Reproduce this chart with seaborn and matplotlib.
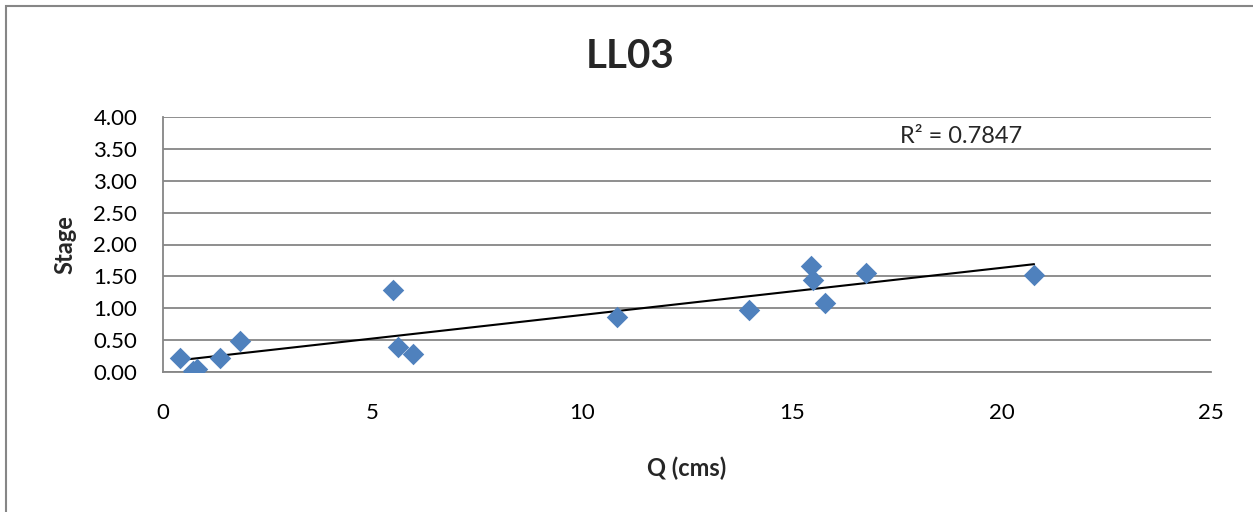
import numpy as np
import pandas as pd
import matplotlib
matplotlib.use("Agg")
import matplotlib.pyplot as plt
import seaborn as sns
from matplotlib.patches import Rectangle

# Data
q_cms = [0.41, 0.72, 0.80, 1.36, 1.84, 5.49, 5.61, 5.96,
         10.83, 13.98, 15.46, 15.51, 15.79, 16.77, 20.78]
stage = [0.22, 0.02, 0.05, 0.22, 0.49, 1.29, 0.39, 0.28,
         0.86, 0.97, 1.66, 1.44, 1.08, 1.55, 1.52]
r2_label = "R² = 0.7847"
title = "LL03"

df = pd.DataFrame({"Q": q_cms, "Stage": stage})

sns.set_style("white")
plt.rcParams["font.family"] = ["Lato", "DejaVu Sans"]

fig = plt.figure(figsize=(12.53, 5.12), dpi=100)
ax = fig.add_axes([163 / 1253, 1 - 372 / 512, (1211 - 163) / 1253, (372 - 117) / 512])

grey = "#868686"

# horizontal gridlines
ax.set_axisbelow(True)
ax.yaxis.grid(True, color=grey, linewidth=1.3)
ax.xaxis.grid(False)

# linear trendline
slope, intercept = np.polyfit(df["Q"], df["Stage"], 1)
xs = np.array([df["Q"].min(), df["Q"].max()])
ax.plot(xs, slope * xs + intercept, color="black", linewidth=1.5, zorder=3)

sns.scatterplot(data=df, x="Q", y="Stage", marker="D", s=120, color="#4F81BD",
                edgecolor="#4F81BD", linewidth=0, ax=ax, zorder=4)

ax.set_xlim(0, 25)
ax.set_ylim(0, 4)
ax.set_xticks(np.arange(0, 26, 5))
ax.set_yticks(np.arange(0, 4.01, 0.5))
ax.set_yticklabels([f"{v:.2f}" for v in np.arange(0, 4.01, 0.5)])

for side in ["top", "right"]:
    ax.spines[side].set_visible(False)
for side in ["left", "bottom"]:
    ax.spines[side].set_color(grey)
    ax.spines[side].set_linewidth(1.3)

ax.tick_params(axis="both", which="major", direction="out", length=5.5,
               width=1.3, color=grey, labelsize=16, labelcolor="black")
ax.tick_params(axis="y", pad=13)
ax.tick_params(axis="x", pad=17)

ax.set_xlabel("Q (cms)", fontsize=17, fontweight="bold", labelpad=24)
ax.set_ylabel("Stage", fontsize=17, fontweight="bold", labelpad=12)

fig.text(630 / 1253, 1 - 57 / 512, title, fontsize=29, fontweight="bold",
         ha="center", va="center")
ax.text(17.58, 3.69, r2_label, fontsize=17, ha="left", va="center")

# chart-area border (only left and top are visible in the crop)
fig.patches.append(Rectangle((6 / 1253, -0.1), 1.2, 1 - 6 / 512 + 0.1,
                             transform=fig.transFigure, fill=False,
                             edgecolor=grey, linewidth=1.5))

fig.savefig("out.png", dpi=100)
